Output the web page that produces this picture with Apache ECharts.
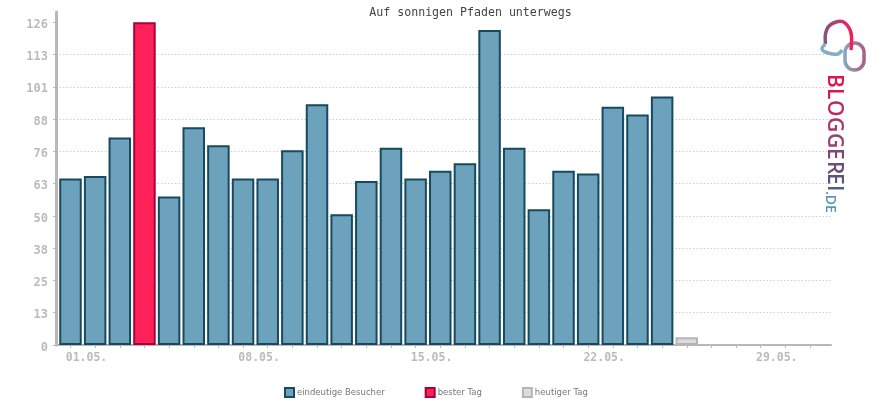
<!DOCTYPE html>
<html>
<head>
<meta charset="utf-8">
<title>Auf sonnigen Pfaden unterwegs</title>
<script src="https://cdn.jsdelivr.net/npm/echarts@6/dist/echarts.min.js"></script>
<style>
  html, body { margin: 0; padding: 0; background: #fff; }
  #chart { width: 870px; height: 400px; }
</style>
</head>
<body>
<div id="chart"></div>
<script>
// values per day of the month
const visitorDays = [1, 2, 3, 5, 6, 7, 8, 9, 10, 11, 12, 13, 14, 15, 16, 17, 18, 19, 20, 21, 22, 23, 24, 25];
const visitorValues = [65, 66, 81, 58, 85, 78, 65, 65, 76, 94, 51, 64, 77, 65, 68, 71, 123, 77, 53, 68, 67, 93, 90, 97];
const bestDays = [4];
const bestValues = [126];
const todayDays = [26];
const todayValues = [3];

const allDays = [];
for (let d = 1; d <= 31; d++) allDays.push(d);
const labelledDays = [1, 8, 15, 22, 29];
const yTickStep = 12.6;
const yTicks = [0, 12.6, 25.2, 37.8, 50.4, 63, 75.6, 88.2, 100.8, 113.4, 126];

const seriesNames = ['eindeutige Besucher', 'bester Tag', 'heutiger Tag'];
const monoFont = '"DejaVu Sans Mono", monospace';

// logo lettering, one text per letter so each can take its own colour
const logoLetters = ['B', 'L', 'O', 'G', 'G', 'E', 'R', 'E', 'I'];
const logoLetterY = [74, 88, 100, 117, 133, 148, 161, 173, 185];
const logoLetterColors = ['#dc1650', '#d01c55', '#bf2a5e', '#a83a68', '#944470', '#7c4a74', '#6a5078', '#58567c', '#48608a'];

function pairs(days, values) {
  return days.map((d, i) => [d, values[i]]);
}

function barSeries(name, days, values, fill, border) {
  return {
    name, type: 'bar', barWidth: 22.5, barGap: '-100%', animation: false,
    itemStyle: { color: fill, borderColor: border, borderWidth: 2 },
    data: pairs(days, values)
  };
}

const logoGradient = (c1, c2) => new echarts.graphic.LinearGradient(
  0, 0, 1, 0, [{ offset: 0, color: c1 }, { offset: 1, color: c2 }]
);

const chart = echarts.init(document.getElementById('chart'));
chart.setOption({
  backgroundColor: '#fff',
  title: {
    text: 'Auf sonnigen Pfaden unterwegs', left: 465.5, top: 2, textAlign: 'center',
    textStyle: { fontFamily: monoFont, fontSize: 11.6, fontWeight: 'normal', color: '#444' }
  },
  grid: { left: 56, right: 39, top: 12, bottom: 55 },
  xAxis: {
    type: 'value', min: 0.412, max: 31.85,
    splitLine: { show: false },
    axisLine: { show: true, lineStyle: { color: '#b8b8b8', width: 2 } },
    axisTick: { show: true, customValues: allDays, length: 3, lineStyle: { color: '#b8b8b8', width: 1 } },
    axisLabel: {
      customValues: labelledDays, margin: 7, padding: [0, 0, 0, 32],
      fontFamily: monoFont, fontWeight: 'bold', fontSize: 11.5, color: '#bbb',
      formatter: v => String(v).padStart(2, '0') + '.05.'
    }
  },
  yAxis: {
    type: 'value', min: 0, max: 130, interval: yTickStep,
    axisLine: { show: true, lineStyle: { color: '#b8b8b8', width: 3 } },
    axisTick: { show: true, customValues: yTicks, length: 3, lineStyle: { color: '#b8b8b8', width: 1 } },
    splitLine: { show: true, showMinLine: false, showMaxLine: false, lineStyle: { color: '#ccc', type: [1.5, 2], width: 1 } },
    axisLabel: {
      customValues: yTicks, margin: 8, verticalAlign: 'top', lineHeight: 5,
      fontFamily: monoFont, fontWeight: 'bold', fontSize: 12, color: '#bbb',
      formatter: v => Math.round(v)
    }
  },
  legend: {
    left: 284, top: 387, padding: 0, itemWidth: 9, itemHeight: 9, itemGap: 40, icon: 'rect', data: seriesNames,
    textStyle: { fontFamily: '"DejaVu Sans", sans-serif', fontSize: 8.5, color: '#777', padding: [0, 0, 0, -2] }
  },
  series: [
    barSeries(seriesNames[0], visitorDays, visitorValues, '#6ca2bb', '#174a5f'),
    barSeries(seriesNames[1], bestDays, bestValues, '#ff2158', '#a8003c'),
    barSeries(seriesNames[2], todayDays, todayValues, '#dcdcdc', '#b5b5b5')
  ],
  graphic: [
    {
      type: 'polyline', z: 10,
      shape: {
        smooth: 0.35,
        points: [[851, 50], [851, 33], [845, 23], [838, 21.5], [829, 26], [825.5, 34], [825.5, 44]]
      },
      style: { fill: 'none', lineWidth: 3.5, stroke: logoGradient('#7a5a80', '#ff1a55') }
    },
    {
      type: 'polyline', z: 10,
      shape: {
        smooth: 0.35,
        points: [[825.5, 44], [822, 49], [828, 53], [838, 54], [842, 50]]
      },
      style: { fill: 'none', lineWidth: 3.5, stroke: '#7fb0c4' }
    },
    {
      type: 'rect', z: 9,
      shape: { x: 845, y: 43, width: 19, height: 27, r: 9.5 },
      style: { fill: 'none', lineWidth: 3.5, stroke: logoGradient('#7fb0c4', '#b0587f') }
    },
    ...logoLetters.map((ch, i) => ({
      type: 'text', z: 10, x: 823, y: logoLetterY[i], rotation: -Math.PI / 2,
      style: {
        text: ch, fontFamily: '"Open Sans", sans-serif', fontSize: 21, fontWeight: 600,
        fill: logoLetterColors[i], textVerticalAlign: 'bottom'
      }
    })),
    {
      type: 'text', z: 10, x: 823, y: 191, rotation: -Math.PI / 2,
      style: {
        text: '.DE', fontFamily: '"Open Sans", sans-serif', fontSize: 14, fontWeight: 600,
        fill: '#5f97b2', textVerticalAlign: 'bottom'
      }
    }
  ]
});
</script>
</body>
</html>
